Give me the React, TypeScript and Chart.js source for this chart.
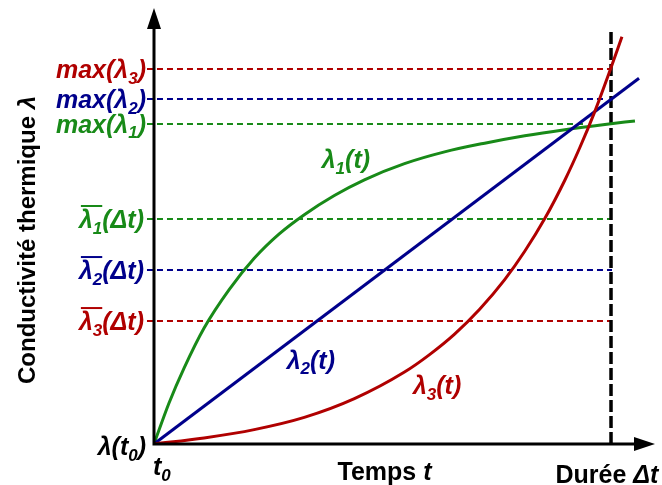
import { useEffect, useRef } from "react";
import { Chart, registerables } from "chart.js";
Chart.register(...registerables);

const RED = "#b00000";
const BLUE = "#00008b";
const GREEN = "#188a18";
const BLACK = "#000000";

// Curves (time axis 0..100, conductivity 0..100)
const lambda1X = [0, 3, 6, 10, 15, 20, 25, 30, 36, 42, 50, 58, 66, 74, 82, 90, 96];
const lambda1Y = [0, 9.4, 17.4, 26.6, 35.4, 42.6, 48.2, 52.6, 57.0, 60.6, 64.3, 67.0, 69.0, 70.7, 72.1, 73.3, 74.1];
const lambda2X = [0, 96.81];
const lambda2Y = [0, 83.9];
const lambda3X = [0, 10, 20, 30, 40, 50, 55, 60, 65, 70, 74, 78, 82, 85, 88, 91, 93.4];
const lambda3Y = [0, 1.4, 3.3, 6.1, 10.4, 16.5, 20.5, 25.2, 30.9, 37.7, 44.2, 51.7, 60.5, 68.0, 76.3, 85.6, 93.4];

// Reference levels
const levelColors = [RED, BLUE, GREEN, GREEN, BLUE, RED];
const levelValues = [86.0, 79.1, 73.4, 51.6, 39.9, 28.2];
const levelEnds = [91.42, 89.62, 86.43, 91.42, 91.42, 91.42];
const levelStart = -1.4;
const levelKinds = ["max", "max", "max", "mean", "mean", "mean"];
const levelIndex = ["3", "2", "1", "1", "2", "3"];

const duration = 91.22;
const durationTop = 94.7;

const curveLabelPos = [
  { x: 38.3, y: 65.3, idx: "1", color: GREEN },
  { x: 31.3, y: 19.3, idx: "2", color: BLUE },
  { x: 56.5, y: 13.5, idx: "3", color: RED },
];

type Seg = { t: string; i?: boolean; sub?: boolean; over?: boolean };

function font(size: number, italic: boolean) {
  return `${italic ? "italic " : ""}bold ${size}px "Liberation Sans", Arial, sans-serif`;
}

function drawRich(
  ctx: CanvasRenderingContext2D,
  segs: Seg[],
  x: number,
  y: number,
  align: "left" | "right" | "center",
  color: string,
  size: number
) {
  const subSize = Math.round(size * 0.68);
  ctx.save();
  ctx.textAlign = "left";
  ctx.textBaseline = "alphabetic";
  const widths = segs.map((s) => {
    ctx.font = font(s.sub ? subSize : size, !!s.i);
    return ctx.measureText(s.t).width;
  });
  const total = widths.reduce((a, b) => a + b, 0);
  let cx = align === "right" ? x - total : align === "center" ? x - total / 2 : x;
  const base = y + size * 0.36;
  let overStart: number | null = null;
  let overEnd = 0;
  ctx.fillStyle = color;
  segs.forEach((s, k) => {
    ctx.font = font(s.sub ? subSize : size, !!s.i);
    ctx.fillText(s.t, cx, s.sub ? base + size * 0.22 : base);
    if (s.over) {
      if (overStart === null) overStart = cx;
      overEnd = cx + widths[k];
    }
    cx += widths[k];
  });
  if (overStart !== null) {
    ctx.strokeStyle = color;
    ctx.lineWidth = 2;
    ctx.beginPath();
    const oy = base - size * 0.88;
    ctx.moveTo(overStart + 2, oy);
    ctx.lineTo(overEnd, oy);
    ctx.stroke();
  }
  ctx.restore();
}

const pts = (xs: number[], ys: number[]) => xs.map((x, k) => ({ x, y: ys[k] }));

const annotations = {
  id: "annotations",
  afterDatasetsDraw(chart: any) {
    const ctx: CanvasRenderingContext2D = chart.ctx;
    const xs = chart.scales.x;
    const ys = chart.scales.y;
    const x0 = xs.getPixelForValue(0);
    const y0 = ys.getPixelForValue(0);
    const xEnd = xs.getPixelForValue(100);
    const yEnd = ys.getPixelForValue(100);

    // axes
    ctx.save();
    ctx.strokeStyle = BLACK;
    ctx.fillStyle = BLACK;
    ctx.lineWidth = 3;
    ctx.beginPath();
    ctx.moveTo(x0, y0 + 1.5);
    ctx.lineTo(x0, yEnd + 16);
    ctx.moveTo(x0 - 1.5, y0);
    ctx.lineTo(xEnd - 16, y0);
    ctx.stroke();
    ctx.beginPath();
    ctx.moveTo(x0, yEnd);
    ctx.lineTo(x0 - 7, yEnd + 21);
    ctx.lineTo(x0 + 7, yEnd + 21);
    ctx.closePath();
    ctx.fill();
    ctx.beginPath();
    ctx.moveTo(xEnd, y0);
    ctx.lineTo(xEnd - 21, y0 - 7);
    ctx.lineTo(xEnd - 21, y0 + 7);
    ctx.closePath();
    ctx.fill();
    ctx.restore();

    const S = 25;
    // level labels
    levelValues.forEach((v, k) => {
      const py = ys.getPixelForValue(v);
      const c = levelColors[k];
      if (levelKinds[k] === "max") {
        drawRich(ctx, [{ t: "max(λ", i: true }, { t: levelIndex[k], i: true, sub: true }, { t: ")", i: true }], x0 - 8, py, "right", c, S);
      } else {
        drawRich(
          ctx,
          [
            { t: "λ", i: true, over: true },
            { t: levelIndex[k], i: true, sub: true, over: true },
            { t: "(Δt)", i: true },
          ],
          x0 - 10,
          py,
          "right",
          c,
          S
        );
      }
    });

    drawRich(ctx, [{ t: "λ(t", i: true }, { t: "0", i: true, sub: true }, { t: ")", i: true }], x0 - 8, y0 + 2, "right", BLACK, S);
    drawRich(ctx, [{ t: "t", i: true }, { t: "0", i: true, sub: true }], x0 - 1, y0 + 22, "left", BLACK, S);
    drawRich(ctx, [{ t: "Temps " }, { t: "t", i: true }], xs.getPixelForValue(46.0), y0 + 27, "center", BLACK, 25);
    drawRich(ctx, [{ t: "Durée " }, { t: "Δt", i: true }], xs.getPixelForValue(90.4), y0 + 30, "center", BLACK, 25);

    curveLabelPos.forEach((l) => {
      drawRich(
        ctx,
        [{ t: "λ", i: true }, { t: l.idx, i: true, sub: true }, { t: "(t)", i: true }],
        xs.getPixelForValue(l.x),
        ys.getPixelForValue(l.y),
        "center",
        l.color,
        S
      );
    });

    // y title
    ctx.save();
    ctx.translate(26, 240);
    ctx.rotate(-Math.PI / 2);
    drawRich(ctx, [{ t: "Conductivité thermique " }, { t: "λ", i: true }], 0, 0, "center", BLACK, 24);
    ctx.restore();
  },
};

export default function App() {
  const ref = useRef<HTMLCanvasElement | null>(null);
  useEffect(() => {
    if (!ref.current) return;
    const levelSets = levelValues.map((v, k) => ({
      data: [
        { x: levelStart, y: v },
        { x: levelEnds[k], y: v },
      ],
      borderColor: levelColors[k],
      borderWidth: 2,
      borderDash: [6, 4],
      clip: false as any,
      order: 10,
    }));
    const chart = new Chart(ref.current, {
      type: "line",
      data: {
        datasets: [
          { data: pts(lambda3X, lambda3Y), borderColor: RED, borderWidth: 3, cubicInterpolationMode: "monotone", order: 1 },
          { data: pts(lambda2X, lambda2Y), borderColor: BLUE, borderWidth: 3, order: 2 },
          { data: pts(lambda1X, lambda1Y), borderColor: GREEN, borderWidth: 3, cubicInterpolationMode: "monotone", order: 3 },
          {
            data: [
              { x: duration, y: 0 },
              { x: duration, y: durationTop },
            ],
            borderColor: BLACK,
            borderWidth: 3.5,
            borderDash: [12, 4],
            order: 4,
          },
          ...levelSets,
        ] as any,
      },
      options: {
        animation: false,
        responsive: false,
        layout: { padding: { left: 154, right: 7, top: 8, bottom: 41 } },
        elements: { point: { radius: 0 }, line: { fill: false } },
        scales: {
          x: { type: "linear", min: 0, max: 100, display: false },
          y: { type: "linear", min: 0, max: 100, display: false },
        },
        plugins: { legend: { display: false }, tooltip: { enabled: false } },
      },
      plugins: [annotations],
    });
    return () => chart.destroy();
  }, []);
  return (
    <div style={{ position: "fixed", left: 0, top: 0, width: 662, height: 485, background: "#fff" }}>
      <canvas ref={ref} width={662} height={485} />
    </div>
  );
}
